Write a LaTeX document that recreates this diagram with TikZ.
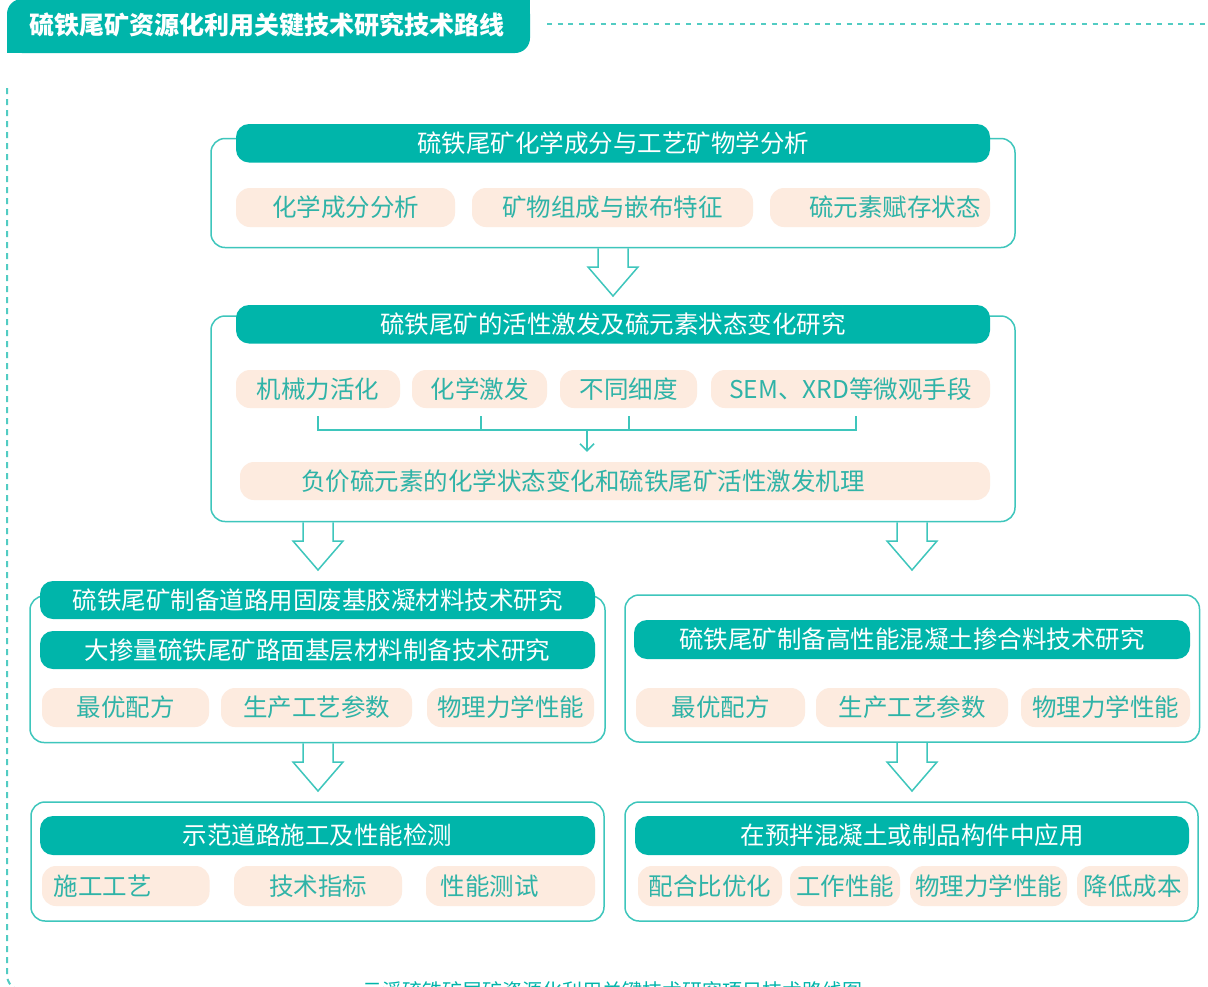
\documentclass[tikz,border=0pt]{standalone}
\usepackage{fontspec}
\setmainfont{Noto Sans CJK SC}
\usetikzlibrary{calc,arrows.meta}
\definecolor{tealfill}{HTML}{00B5AA}
\definecolor{peach}{HTML}{FDEBDF}
\definecolor{chiptext}{HTML}{2FB3A7}
\definecolor{outl}{HTML}{3EC6BC}
\definecolor{dashcol}{HTML}{52CCC3}
\newcommand\blockarr[2]{%
  \draw[blockarrow] let \p1=(#1), \p2=(#2) in
    (\x2-15pt,\y1) -- (\x2-15pt,\y2+29pt) -- (\x2-25pt,\y2+29pt) -- (\x2,\y2)
    -- (\x2+25pt,\y2+29pt) -- (\x2+15pt,\y2+29pt) -- (\x2+15pt,\y1);}
\begin{document}
\begin{tikzpicture}[x=1pt,y=-1pt,
  frame/.style={draw=outl, line width=1.5pt, rounded corners=14pt, fill=white, inner sep=0pt},
  bar/.style={fill=tealfill, rounded corners=13pt, text=white, inner sep=0pt,
    font=\fontsize{24.5}{28}\selectfont},
  chip/.style={fill=peach, rounded corners=14pt, text=chiptext, inner sep=0pt,
    font=\fontsize{24.5}{28}\selectfont},
  blockarrow/.style={draw=outl, line width=1.5pt, line join=miter},
  brk/.style={draw=outl, line width=1.5pt}
]
\useasboundingbox (0,0) rectangle (1208,986);
\fill[white] (0,0) rectangle (1208,986);

% ---- title banner
\fill[tealfill, rounded corners=15pt] (7,53) -- (7,-1) -- (530,-1) -- (530,53) -- cycle;
\fill[tealfill] (7,30) rectangle (40,53);
\fill[tealfill] (500,-1) rectangle (530,20);
\node[text=white, font=\fontsize{25}{28}\selectfont\bfseries, inner sep=0pt] (title) at (267,25)
  {硫铁尾矿资源化利用关键技术研究技术路线};
\draw[dashcol, line width=2pt, dash pattern=on 5pt off 5.7pt] (547,24) -- (1208,24);
\draw[dashcol, line width=2pt, dash pattern=on 6pt off 5pt, rounded corners=15pt]
  (7,88) -- (7,990) -- (100,990);

% ---- box 1
\node[frame, minimum width=804pt, minimum height=109pt] (box1) at (613,193) {};
\node[bar, minimum width=754pt, minimum height=38.5pt] (bar1) at (613,143.25)
  {硫铁尾矿化学成分与工艺矿物学分析};
\node[chip, minimum width=219pt, minimum height=39pt] (c11) at (345.5,207.5) {化学成分分析};
\node[chip, minimum width=281pt, minimum height=39pt] (c12) at (612.5,207.5) {矿物组成与嵌布特征};
\node[chip, minimum width=220pt, minimum height=39pt] (c13) at (880,207.5) {\hspace*{30pt}硫元素赋存状态};

% ---- box 2
\node[frame, minimum width=804pt, minimum height=205.5pt] (box2) at (613,418.75) {};
\node[bar, minimum width=754pt, minimum height=38.5pt] (bar2) at (613,324.25)
  {硫铁尾矿的活性激发及硫元素状态变化研究};
\node[chip, minimum width=164pt, minimum height=38pt] (c21) at (318,389) {机械力活化};
\node[chip, minimum width=135pt, minimum height=38pt] (c22) at (479.5,389) {化学激发};
\node[chip, minimum width=137pt, minimum height=38pt] (c23) at (628.5,389) {不同细度};
\node[chip, minimum width=279pt, minimum height=38pt] (c24) at (850.5,389) {SEM、XRD等微观手段};
\node[chip, minimum width=750pt, minimum height=38pt] (c25) at (615,481)
  {负价硫元素的化学状态变化和硫铁尾矿活性激发机理\hspace*{64pt}};
\coordinate (bj) at (587,430);
\draw[brk] (318,416) -- (318,430) -- (856,430) -- (856,416);
\draw[brk] (481,416) -- (481,430);
\draw[brk] (629,416) -- (629,430);
\draw[brk, -{Straight Barb[length=7pt,width=14pt]}, shorten >=10pt] (bj) -- (bj |- c25.north);

% ---- box 3 (left)
\node[frame, minimum width=575pt, minimum height=146.5pt] (box3) at (317.5,669.25) {};
\node[bar, minimum width=555pt, minimum height=38pt] (bar31) at (317.5,600)
  {硫铁尾矿制备道路用固废基胶凝材料技术研究};
\node[bar, minimum width=555pt, minimum height=38pt] (bar32) at (317.5,650)
  {大掺量硫铁尾矿路面基层材料制备技术研究};
\node[chip, minimum width=167pt, minimum height=39pt] (c31) at (125.5,707.5) {最优配方};
\node[chip, minimum width=191pt, minimum height=39pt] (c32) at (316.5,707.5) {生产工艺参数};
\node[chip, minimum width=167pt, minimum height=39pt] (c33) at (510.5,707.5) {物理力学性能};

% ---- box 4 (right)
\node[frame, minimum width=574.5pt, minimum height=147pt] (box4) at (912.25,668.5) {};
\node[bar, minimum width=556pt, minimum height=39pt] (bar41) at (912,639.5)
  {硫铁尾矿制备高性能混凝土掺合料技术研究};
\node[chip, minimum width=169pt, minimum height=39pt] (c41) at (720.5,707.5) {最优配方};
\node[chip, minimum width=192pt, minimum height=39pt] (c42) at (912,707.5) {生产工艺参数};
\node[chip, minimum width=169pt, minimum height=39pt] (c43) at (1105.5,707.5) {物理力学性能};

% ---- box 5 (left bottom)
\node[frame, minimum width=573pt, minimum height=119pt] (box5) at (317.5,861.5) {};
\node[bar, minimum width=555pt, minimum height=39pt] (bar51) at (317.5,835.5)
  {示范道路施工及性能检测};
\node[chip, minimum width=167.5pt, minimum height=40pt] (c51) at (125.75,886) {施工工艺\hspace*{46pt}};
\node[chip, minimum width=168pt, minimum height=40pt] (c52) at (318,886) {技术指标};
\node[chip, minimum width=169pt, minimum height=40pt] (c53) at (510.5,886) {性能测试\hspace*{42pt}};

% ---- box 6 (right bottom)
\node[frame, minimum width=573pt, minimum height=119pt] (box6) at (911.5,861.5) {};
\node[bar, minimum width=554pt, minimum height=39pt] (bar61) at (912,835.5)
  {在预拌混凝土或制品构件中应用};
\node[chip, minimum width=144pt, minimum height=40pt] (c61) at (710,886) {配合比优化};
\node[chip, minimum width=110pt, minimum height=40pt] (c62) at (845,886) {工作性能};
\node[chip, minimum width=157pt, minimum height=40pt] (c63) at (988.5,886) {物理力学性能};
\node[chip, minimum width=111pt, minimum height=40pt] (c64) at (1132.5,886) {降低成本};

% ---- hollow block arrows
\coordinate (t1) at (613,296);
\coordinate (t2) at (318,570);
\coordinate (t3) at (912,570);
\coordinate (t4) at (318,791);
\coordinate (t5) at (912,791);
\blockarr{box1.south}{t1}
\blockarr{t2 |- box2.south}{t2}
\blockarr{t3 |- box2.south}{t3}
\blockarr{t4 |- box3.south}{t4}
\blockarr{t5 |- box4.south}{t5}

% ---- caption (cut off at the bottom edge)
\node[text=tealfill, font=\fontsize{20}{24}\selectfont, inner sep=0pt, anchor=base] (cap) at (612,998)
  {云溪硫铁矿尾矿资源化利用关键技术研究项目技术路线图};
\end{tikzpicture}
\end{document}
